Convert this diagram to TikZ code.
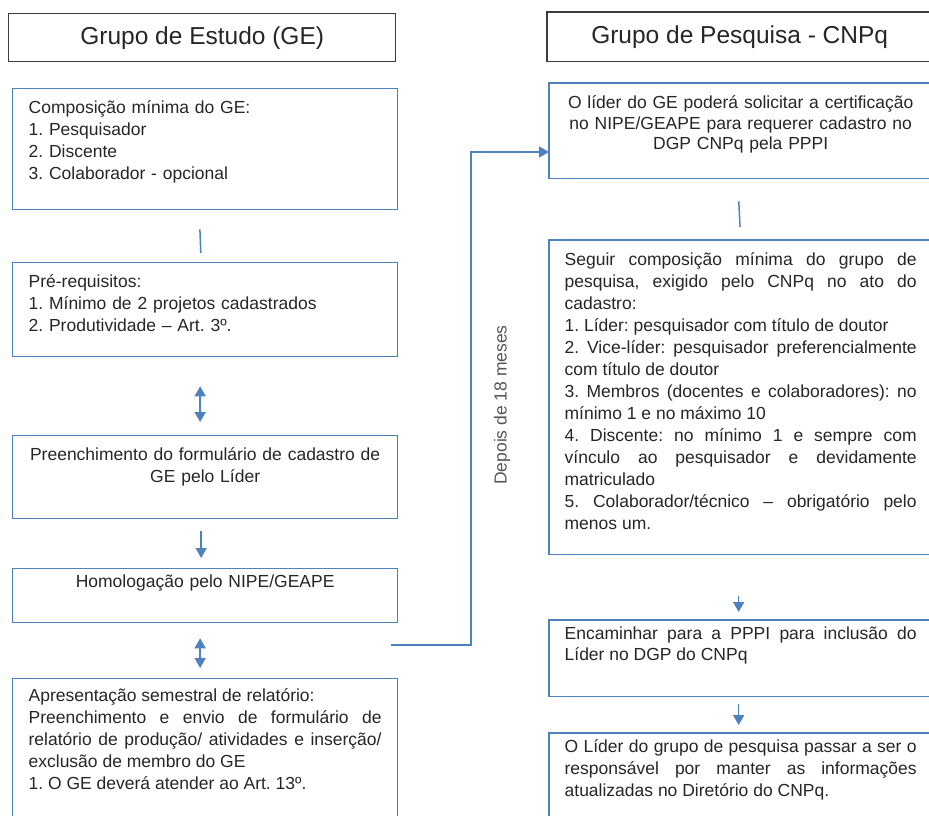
\documentclass[tikz,border=0pt]{standalone}
\usepackage{fontspec}
\setmainfont{Liberation Sans}
\usetikzlibrary{arrows.meta}
\definecolor{azul}{RGB}{79,129,189}
\definecolor{borda}{RGB}{60,60,60}
\definecolor{texto}{RGB}{38,38,38}
\definecolor{cinza}{RGB}{85,85,85}
\frenchspacing
\newcommand{\corpo}{\fontsize{17.5}{22}\selectfont}
\newcommand{\corpoestreito}{\fontsize{17.5}{20.5}\selectfont}
\newcommand{\titulofonte}{\fontsize{24.5}{29}\selectfont}
\tikzset{
  titulo/.style={draw=borda, line width=1.4pt, anchor=north west, inner sep=0pt, minimum height=48pt, font=\titulofonte, text=texto},
  etapa/.style={draw=azul, line width=1.3pt, anchor=north west, inner xsep=16pt, inner ysep=8pt, text height=17pt, font=\corpo, text=texto},
  linha/.style={draw=azul, line width=1.5pt},
  seta/.style={linha, -{Triangle[length=10pt,width=11pt]}},
  setas/.style={linha, {Triangle[length=10pt,width=11pt]}-{Triangle[length=10pt,width=11pt]}},
}
\begin{document}
\begin{tikzpicture}[x=1pt, y=-1pt]
\useasboundingbox (0,0) rectangle (929,816);
\node[titulo, minimum width=387pt] (GE) at (8,13) {Grupo de Estudo (GE)};
\node[titulo, draw=none, minimum width=384pt] (CNPq) at (547,12) {Grupo de Pesquisa - CNPq};
\node[etapa, text width=353pt, align=left, text depth=88pt] (comp) at (12,88) {Composição mínima do GE:\\1. Pesquisador\\2. Discente\\3. Colaborador - opcional};
\node[etapa, text width=353pt, align=left, text depth=61pt] (prereq) at (12,262) {Pré-requisitos:\\1. Mínimo de 2 projetos cadastrados\\2. Produtividade – Art. 3º.};
\node[etapa, text width=353pt, align=center, text depth=50pt] (form) at (12,435) {Preenchimento do formulário de cadastro de\\GE pelo Líder};
\node[etapa, text width=353pt, align=center, text height=11pt, text depth=27pt] (homol) at (12,568) {Homologação pelo NIPE/GEAPE};
\node[etapa, text width=353pt, align=justify, text height=15pt, text depth=129pt] (relat) at (12,678) {Apresentação semestral de relatório:\\Preenchimento e envio de formulário de \linebreak relatório de produção/ atividades e inserção/ \linebreak exclusão de membro do GE\\1. O GE deverá atender ao Art. 13º.};
\node[etapa, draw=none, inner xsep=8pt, text width=366pt, align=center, text depth=61pt, font=\corpoestreito] (lider) at (549,83) {O líder do GE poderá solicitar a certificação\\no NIPE/GEAPE para requerer cadastro no\\DGP CNPq pela PPPI};
\node[etapa, draw=none, inner xsep=15pt, text width=352pt, align=justify, text depth=280pt] (compos) at (549,240) {Seguir composição mínima do grupo de \linebreak pesquisa, exigido pelo CNPq no ato do \linebreak cadastro:\\1. Líder: pesquisador com título de doutor\\2. Vice-líder: pesquisador preferencialmente \linebreak com título de doutor\\3. Membros (docentes e colaboradores): no \linebreak mínimo 1 e no máximo 10\\4. Discente: no mínimo 1 e sempre com \linebreak vínculo ao pesquisador e devidamente \linebreak matriculado\\5. Colaborador/técnico – obrigatório pelo \linebreak menos um.};
\node[etapa, draw=none, inner xsep=15pt, text width=352pt, align=justify, text height=11pt, text depth=48pt, font=\corpoestreito] (encam) at (549,620) {Encaminhar para a PPPI para inclusão do \linebreak Líder no DGP do CNPq};
\node[etapa, draw=none, inner xsep=15pt, text width=352pt, align=justify, text height=11pt, text depth=73pt] (resp) at (549,733) {O Líder do grupo de pesquisa passar a ser o \linebreak responsável por manter as informações \linebreak atualizadas no Diretório do CNPq.};
\node[rotate=90, font=\corpo, text=cinza] (prazo) at (502,405) {Depois de 18 meses};
\draw[borda, line width=1.4pt] ([xshift=10pt]CNPq.north east) -- (CNPq.north west) -- (CNPq.south west) -- ([xshift=10pt]CNPq.south east);
\foreach \caixa in {lider,compos,encam,resp}
  \draw[azul, line width=1.3pt] ([xshift=10pt]\caixa.north east) -- (\caixa.north west) -- (\caixa.south west) -- ([xshift=10pt]\caixa.south east);
\coordinate (saida) at (391,645);
\coordinate (dobra) at (471,152);
\draw[linha, shorten <=19pt, shorten >=9pt] ([xshift=-6pt]comp.south) -- ([xshift=-4pt]prereq.north);
\draw[setas, shorten <=29pt, shorten >=13pt] ([xshift=-5pt]prereq.south) -- ([xshift=-5pt]form.north);
\draw[seta, shorten <=12pt, shorten >=10pt] ([xshift=-4pt]form.south) -- ([xshift=-4pt]homol.north);
\draw[setas, shorten <=15pt, shorten >=10pt] ([xshift=-5pt]homol.south) -- ([xshift=-5pt]relat.north);
\draw[seta] (saida) -| (dobra) -- (dobra -| lider.west);
\draw[linha, shorten <=23pt, shorten >=13pt] ([xshift=-3pt]lider.south) -- (compos.north);
\draw[seta, shorten <=42pt, shorten >=8pt] ([xshift=-2pt]compos.south) -- ([xshift=-2pt]encam.north);
\draw[seta, shorten <=8pt, shorten >=8pt] ([xshift=-2pt]encam.south) -- ([xshift=-2pt]resp.north);
\end{tikzpicture}
\end{document}
